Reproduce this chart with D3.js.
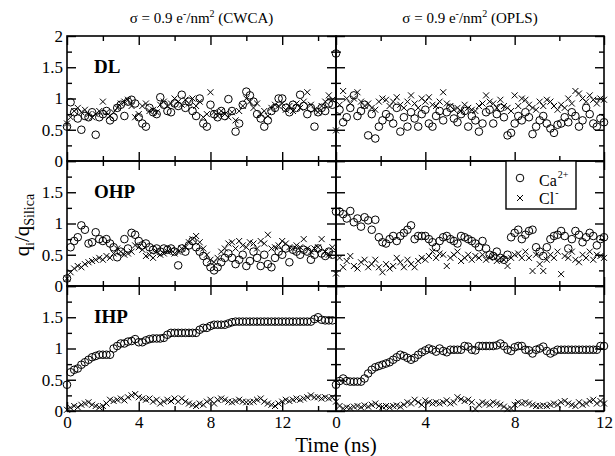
<!DOCTYPE html>
<html><head><meta charset="utf-8">
<script src="https://cdn.jsdelivr.net/npm/d3@7"></script>
<style>
body{margin:0;background:#fff}
</style></head>
<body><svg id="c" width="615" height="456"></svg>
<script>
// ---------- data ----------
const panelNames = ["DL", "OHP", "IHP"];
const columnModels = ["CWCA", "OPLS"];
const xTickLabels = [0, 4, 8, 12];
const yTickLabels = [0, 0.5, 1, 1.5, 2];
const seriesNames = ["Ca", "Cl"];
const dtCWCA = 0.2;   // ns between samples
const dtOPLS = 0.16;

const dlCaCWCA = [0.55,0.94,0.78,0.68,0.5,0.72,0.7,0.78,0.42,0.7,0.75,0.8,0.65,0.7,0.85,0.9,0.72,0.95,0.98,0.92,0.7,0.6,0.55,0.85,0.78,0.75,1.02,0.9,0.8,0.78,0.92,0.88,1.06,0.85,0.95,0.8,0.72,1.0,0.6,0.55,0.9,0.75,0.7,0.8,0.72,0.99,0.8,0.47,0.6,0.9,1.11,1.05,0.95,0.75,0.68,0.55,0.65,0.8,0.85,1.0,1.0,0.85,0.78,0.9,0.85,1.06,0.88,0.75,0.85,0.55,0.78,0.85,0.8,0.92,0.9];
const dlClCWCA = [0.6,0.7,0.8,0.85,0.78,0.82,0.75,0.7,0.75,0.8,0.95,0.78,0.72,0.78,0.85,0.92,0.95,0.98,0.88,0.7,0.75,0.88,0.92,0.8,0.82,0.78,0.9,0.95,0.88,0.92,1.0,0.95,0.9,0.98,0.92,1.0,0.88,0.95,0.7,0.75,1.1,0.78,0.72,0.8,0.75,0.7,0.78,0.65,0.8,0.88,1.0,0.95,0.85,0.92,0.75,0.8,0.72,0.85,0.9,0.88,0.92,0.82,0.88,0.8,0.92,0.85,0.95,1.1,0.9,0.82,0.78,0.88,0.95,1.05,0.98];
const ohpCaCWCA = [0.12,0.62,0.72,0.78,0.97,0.9,0.68,0.7,0.86,0.75,0.72,0.75,0.68,0.62,0.46,0.55,0.75,0.6,0.85,0.82,0.72,0.65,0.68,0.62,0.58,0.6,0.55,0.6,0.58,0.6,0.55,0.33,0.6,0.55,0.65,0.72,0.62,0.55,0.48,0.38,0.3,0.25,0.3,0.38,0.45,0.52,0.45,0.35,0.42,0.5,0.32,0.4,0.55,0.45,0.32,0.5,0.35,0.3,0.45,0.55,0.5,0.6,0.38,0.58,0.55,0.5,0.58,0.55,0.42,0.5,0.6,0.52,0.48,0.55,0.5];
const ohpClCWCA = [0.12,0.22,0.28,0.32,0.3,0.35,0.38,0.4,0.42,0.45,0.42,0.48,0.45,0.52,0.6,0.55,0.5,0.52,0.55,0.65,0.62,0.58,0.48,0.5,0.45,0.55,0.5,0.52,0.55,0.58,0.52,0.55,0.6,0.62,0.7,0.75,0.8,0.7,0.6,0.5,0.42,0.38,0.45,0.55,0.6,0.68,0.7,0.6,0.72,0.65,0.62,0.7,0.68,0.6,0.72,0.68,0.82,0.6,0.62,0.65,0.72,0.68,0.62,0.6,0.65,0.62,0.75,0.6,0.55,0.6,0.62,0.75,0.55,0.5,0.62];
const ihpCaCWCA = [0.42,0.62,0.66,0.68,0.74,0.78,0.82,0.86,0.88,0.9,0.9,0.9,0.9,1.0,1.04,1.08,1.08,1.11,1.12,1.15,1.1,1.1,1.13,1.15,1.16,1.16,1.16,1.17,1.22,1.25,1.25,1.25,1.25,1.25,1.25,1.25,1.25,1.3,1.33,1.33,1.36,1.38,1.38,1.38,1.38,1.4,1.42,1.43,1.43,1.43,1.43,1.43,1.43,1.43,1.43,1.43,1.43,1.43,1.43,1.43,1.43,1.43,1.43,1.43,1.43,1.43,1.43,1.43,1.43,1.47,1.5,1.46,1.45,1.45,1.45];
const ihpClCWCA = [0.02,0.05,0.08,0.06,0.1,0.12,0.14,0.1,0.08,0.06,0.08,0.12,0.18,0.16,0.18,0.2,0.17,0.22,0.25,0.27,0.22,0.2,0.18,0.2,0.15,0.18,0.12,0.15,0.18,0.16,0.2,0.15,0.2,0.15,0.12,0.1,0.08,0.12,0.1,0.15,0.18,0.12,0.18,0.2,0.18,0.15,0.14,0.16,0.18,0.15,0.14,0.14,0.15,0.18,0.2,0.15,0.12,0.1,0.08,0.12,0.15,0.18,0.16,0.18,0.2,0.18,0.2,0.22,0.25,0.22,0.22,0.2,0.22,0.2,0.22];

const dlCaOPLS = [1.72,0.82,0.62,0.7,0.85,1.05,0.72,0.8,0.9,0.41,0.75,0.36,0.55,0.65,0.75,0.7,0.6,0.85,0.47,0.7,0.55,0.78,0.68,0.55,0.75,0.82,0.6,0.55,0.72,0.8,0.65,0.78,0.85,0.68,0.62,0.75,0.8,0.55,0.72,0.65,0.47,0.6,0.78,0.82,0.6,0.75,0.85,0.7,0.41,0.45,0.6,0.72,0.65,0.78,0.7,0.43,0.55,0.65,0.72,0.6,0.52,0.45,0.58,0.6,0.7,0.62,0.78,0.72,0.55,0.65,0.85,0.75,0.6,0.55,0.68,0.62];
const dlClOPLS = [0.49,0.9,1.12,1.0,0.92,1.0,1.1,0.95,0.88,0.92,0.85,0.82,0.95,1.0,0.98,0.88,0.95,1.02,0.9,0.85,0.95,1.05,0.92,0.85,1.0,0.95,1.02,0.9,0.88,0.95,1.1,0.92,0.88,0.82,0.85,0.8,0.9,0.85,0.82,0.8,0.88,0.92,1.05,0.95,0.92,0.85,0.98,0.88,0.85,0.8,1.05,0.88,1.0,0.98,0.9,0.85,0.82,0.95,0.88,0.98,0.95,0.88,0.82,0.9,0.85,1.0,0.92,1.12,1.08,1.0,0.95,1.05,0.98,0.92,1.0,0.98];
const ohpCaOPLS = [1.19,1.19,1.15,1.08,1.2,1.02,1.08,0.95,1.1,1.05,0.9,1.06,0.78,0.7,0.68,0.75,0.8,0.72,0.8,0.85,0.9,0.97,0.75,0.8,0.8,0.8,0.75,0.7,0.62,0.72,0.78,0.8,0.75,0.72,0.68,0.8,0.78,0.75,0.72,0.68,0.62,0.72,0.6,0.5,0.48,0.55,0.45,0.42,0.5,0.78,0.85,0.9,0.75,0.82,0.88,0.9,0.62,0.55,0.48,0.62,0.75,0.8,0.82,0.88,0.8,0.6,0.75,0.88,0.82,0.7,0.78,0.85,0.8,0.65,0.75,0.78];
const ohpClOPLS = [0.2,0.45,0.3,0.4,0.48,0.32,0.28,0.38,0.42,0.3,0.35,0.42,0.3,0.22,0.35,0.28,0.32,0.45,0.38,0.3,0.42,0.35,0.3,0.4,0.45,0.42,0.48,0.55,0.45,0.52,0.5,0.32,0.45,0.5,0.55,0.4,0.45,0.5,0.42,0.48,0.45,0.5,0.42,0.45,0.48,0.4,0.45,0.42,0.32,0.45,0.5,0.52,0.45,0.55,0.45,0.24,0.5,0.35,0.24,0.42,0.5,0.45,0.55,0.19,0.48,0.45,0.55,0.42,0.38,0.5,0.45,0.55,0.42,0.5,0.48,0.45];
const ihpCaOPLS = [0.42,0.48,0.52,0.48,0.47,0.47,0.47,0.47,0.52,0.6,0.66,0.7,0.72,0.74,0.76,0.78,0.82,0.86,0.9,0.88,0.85,0.82,0.85,0.9,0.94,0.97,1.0,0.98,0.95,1.0,0.96,0.94,0.98,0.98,0.98,0.98,1.04,1.03,0.98,0.97,1.04,1.04,1.04,1.04,1.04,1.05,1.08,1.04,0.98,0.96,1.02,1.04,1.04,0.98,0.97,0.92,0.98,1.0,1.03,0.96,0.92,0.95,0.98,0.98,0.98,0.98,0.98,0.98,0.98,0.98,0.98,0.98,0.98,0.98,1.04,1.04];
const ihpClOPLS = [0.15,0.08,0.04,0.06,0.05,0.07,0.08,0.06,0.09,0.07,0.1,0.12,0.08,0.07,0.08,0.06,0.08,0.09,0.07,0.1,0.14,0.12,0.18,0.14,0.1,0.17,0.14,0.12,0.14,0.12,0.14,0.17,0.12,0.14,0.22,0.19,0.16,0.18,0.14,0.03,0.1,0.14,0.12,0.1,0.14,0.12,0.1,0.07,0.03,0.04,0.1,0.14,0.12,0.14,0.12,0.1,0.08,0.08,0.09,0.08,0.1,0.12,0.1,0.14,0.16,0.12,0.1,0.08,0.14,0.1,0.12,0.16,0.18,0.12,0.16,0.12];

// ---------- layout ----------
const FONT = "'Liberation Serif', 'Times New Roman', Times, 'DejaVu Serif', serif";
const svg = d3.select("#c").attr("font-family", FONT);
const colX = [[67, 336], [336, 604]];
const colDomain = [[0, 15], [0, 12]];
const colDt = [dtCWCA, dtOPLS];
const rowY = [[36, 161], [161, 286], [286, 411]];
const data = [
  [[dlCaCWCA, dlClCWCA], [dlCaOPLS, dlClOPLS]],
  [[ohpCaCWCA, ohpClCWCA], [ohpCaOPLS, ohpClOPLS]],
  [[ihpCaCWCA, ihpClCWCA], [ihpCaOPLS, ihpClOPLS]]
];
const crossPath = "M-3,-3L3,3M-3,3L3,-3";
const TW = 1.4;

function styleAxis(g) {
  g.attr("font-family", FONT).attr("font-size", 17);
  g.select(".domain").remove();
  g.selectAll(".tick line").attr("stroke", "#000").attr("stroke-width", TW);
  g.selectAll(".tick text").attr("fill", "#000");
}

for (let r = 0; r < 3; r++) {
  for (let c = 0; c < 2; c++) {
    const x = d3.scaleLinear().domain(colDomain[c]).range(colX[c]);
    const y = d3.scaleLinear().domain([0, 2]).range([rowY[r][1], rowY[r][0]]);
    const xMaj = [0, 4, 8, 12];
    const xMin = c === 0 ? [2, 6, 10, 14] : [2, 6, 10];
    const yMaj = [0, 0.5, 1, 1.5, 2];
    const yMin = [0.25, 0.75, 1.25, 1.75];
    const g = svg.append("g");

    // markers
    const [ca, cl] = data[r][c];
    g.append("g").selectAll("circle").data(ca).join("circle")
      .attr("cx", (d, i) => x(i * colDt[c])).attr("cy", d => y(d)).attr("r", 3.8)
      .attr("fill", "none").attr("stroke", "#000").attr("stroke-width", 1);
    g.append("g").selectAll("path").data(cl).join("path")
      .attr("transform", (d, i) => `translate(${x(i * colDt[c])},${y(d)})`)
      .attr("d", crossPath).attr("fill", "none").attr("stroke", "#000").attr("stroke-width", 1);

    // axes: ticks inward on all four sides
    const showY = c === 0;
    const yLab = r === 0 ? yTickLabels : yTickLabels.filter(v => v < 2);
    g.append("g").attr("transform", `translate(${colX[c][0]},0)`)
      .call(d3.axisLeft(y).tickValues(yMaj).tickSizeInner(-9).tickSizeOuter(0).tickPadding(4)
        .tickFormat(d => showY && yLab.includes(d) ? d3.format("~g")(d) : ""))
      .call(styleAxis);
    g.append("g").attr("transform", `translate(${colX[c][0]},0)`)
      .call(d3.axisLeft(y).tickValues(yMin).tickSizeInner(-5).tickSizeOuter(0).tickFormat(""))
      .call(styleAxis);
    g.append("g").attr("transform", `translate(${colX[c][1]},0)`)
      .call(d3.axisRight(y).tickValues(yMaj).tickSizeInner(-9).tickSizeOuter(0).tickFormat(""))
      .call(styleAxis);
    g.append("g").attr("transform", `translate(${colX[c][1]},0)`)
      .call(d3.axisRight(y).tickValues(yMin).tickSizeInner(-5).tickSizeOuter(0).tickFormat(""))
      .call(styleAxis);
    const showX = r === 2;
    g.append("g").attr("transform", `translate(0,${rowY[r][1]})`)
      .call(d3.axisBottom(x).tickValues(xMaj).tickSizeInner(-9).tickSizeOuter(0).tickPadding(5)
        .tickFormat(d => showX && xTickLabels.includes(d) ? d : ""))
      .call(styleAxis);
    g.append("g").attr("transform", `translate(0,${rowY[r][1]})`)
      .call(d3.axisBottom(x).tickValues(xMin).tickSizeInner(-5).tickSizeOuter(0).tickFormat(""))
      .call(styleAxis);
    g.append("g").attr("transform", `translate(0,${rowY[r][0]})`)
      .call(d3.axisTop(x).tickValues(xMaj).tickSizeInner(-9).tickSizeOuter(0).tickFormat(""))
      .call(styleAxis);
    g.append("g").attr("transform", `translate(0,${rowY[r][0]})`)
      .call(d3.axisTop(x).tickValues(xMin).tickSizeInner(-5).tickSizeOuter(0).tickFormat(""))
      .call(styleAxis);

    // frame
    g.append("rect").attr("x", colX[c][0]).attr("y", rowY[r][0])
      .attr("width", colX[c][1] - colX[c][0]).attr("height", rowY[r][1] - rowY[r][0])
      .attr("fill", "none").attr("stroke", "#000").attr("stroke-width", 1.6);

    if (c === 0) {
      g.append("text").attr("x", 94).attr("y", rowY[r][0] + 37)
        .attr("font-weight", "bold").attr("font-size", 19).text(panelNames[r]);
    }
  }
}

// column titles
columnModels.forEach((m, c) => {
  const t = svg.append("text").attr("x", (colX[c][0] + colX[c][1]) / 2).attr("y", 23)
    .attr("text-anchor", "middle").attr("font-size", 15);
  t.append("tspan").text("\u03c3 = 0.9 e");
  t.append("tspan").attr("dy", -6).attr("font-size", 10).text("-");
  t.append("tspan").attr("dy", 6).text("/nm");
  t.append("tspan").attr("dy", -6).attr("font-size", 10).text("2");
  t.append("tspan").attr("dy", 6).text(" (" + m + ")");
});

// axis titles
svg.append("text").attr("x", 336).attr("y", 452).attr("text-anchor", "middle")
  .attr("font-size", 21).text("Time (ns)");
const yl = svg.append("text").attr("transform", "translate(29,225) rotate(-90)")
  .attr("text-anchor", "middle").attr("font-size", 21);
yl.append("tspan").text("q");
yl.append("tspan").attr("dy", 5).attr("font-size", 13).text("i");
yl.append("tspan").attr("dy", -5).text("/q");
yl.append("tspan").attr("dy", 5).attr("font-size", 14).text("Silica");

// legend
const lg = svg.append("g");
lg.append("rect").attr("x", 506).attr("y", 161).attr("width", 70).attr("height", 48)
  .attr("fill", "#fff").attr("stroke", "#000").attr("stroke-width", 1.4);
lg.append("circle").attr("cx", 520).attr("cy", 178).attr("r", 3.8)
  .attr("fill", "none").attr("stroke", "#000").attr("stroke-width", 1);
lg.append("path").attr("transform", "translate(520,198)").attr("d", crossPath)
  .attr("fill", "none").attr("stroke", "#000").attr("stroke-width", 1);
const t1 = lg.append("text").attr("x", 539).attr("y", 186).attr("font-size", 16);
t1.append("tspan").text(seriesNames[0]);
t1.append("tspan").attr("dx", 1).attr("dy", -8).attr("font-size", 10).text("2+");
const t2 = lg.append("text").attr("x", 539).attr("y", 204).attr("font-size", 16);
t2.append("tspan").text(seriesNames[1]);
t2.append("tspan").attr("dx", 1).attr("dy", -8).attr("font-size", 10).text("-");
</script></body></html>
